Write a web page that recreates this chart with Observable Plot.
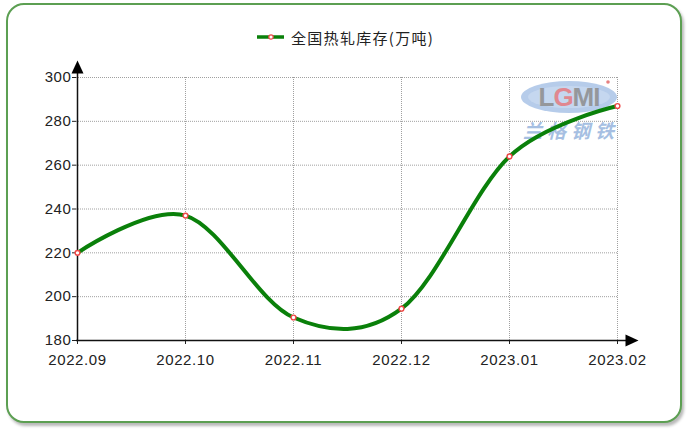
<!DOCTYPE html>
<html>
<head>
<meta charset="utf-8">
<script src="https://cdn.jsdelivr.net/npm/d3@7"></script>
<script src="https://cdn.jsdelivr.net/npm/@observablehq/plot@0.6"></script>
<style>
  html, body { margin: 0; padding: 0; background: #fff; }
  #wrap { position: relative; width: 688px; height: 429px; overflow: hidden; }
  #frame { position: absolute; left: 6px; top: 3px; width: 672px; height: 416px;
           border: 2px solid #5c9f52; border-radius: 18px;
           box-shadow: 2px 3px 3px rgba(0,0,0,0.28); background: #fff; }
  #legend { position: absolute; left: 257px; top: 27px; height: 20px; display: flex; align-items: center;
            font-family: "Noto Sans CJK SC", sans-serif; font-size: 15px; color: #222; letter-spacing: 1.3px; }
  #wm { position: absolute; left: 0; top: 0; }
  #chart { position: absolute; left: 0; top: 0; }
</style>
</head>
<body>
<div id="wrap">
  <div id="frame"></div>
  <svg id="wm" width="688" height="429">
    <ellipse cx="569" cy="97" rx="48" ry="16" fill="#a9c3e6" opacity="0.85"/>
    <ellipse cx="569" cy="97" rx="41" ry="11" fill="#c9d9f0" opacity="0.8"/>
    <text x="569" y="106" text-anchor="middle" font-family="Liberation Sans" font-weight="bold" font-size="26" fill="#8d8d8d" opacity="0.85" letter-spacing="-1">L<tspan fill="#e57a80">G</tspan>MI</text>
    <circle cx="608" cy="82" r="1.8" fill="#e06060" opacity="0.8"/>
    <text x="571" y="138" text-anchor="middle" font-family="Noto Sans CJK SC" font-size="19" font-weight="bold" font-style="italic" fill="#a6bfe2" letter-spacing="5">兰格钢铁</text>
  </svg>
  <div id="chart"></div>
  <div id="legend">
    <svg width="28" height="10" style="margin-right:6px"><line x1="0" y1="5" x2="27" y2="5" stroke="#0a800a" stroke-width="3.5"/><circle cx="14" cy="5" r="2.2" fill="#fff" stroke="#f04848" stroke-width="1.2"/></svg>
    <span>全国热轧库存(万吨)</span>
  </div>
</div>
<script>
const months = ["2022.09", "2022.10", "2022.11", "2022.12", "2023.01", "2023.02"];
const stock = [220, 237, 190.5, 194.5, 264, 287];
const yTicks = [180, 200, 220, 240, 260, 280, 300];

const data = months.map((m, i) => ({month: m, value: stock[i]}));
const gridStyle = {stroke: "#a0a0a0", strokeOpacity: 1, strokeDasharray: "1,1", strokeWidth: 1};

const chart = Plot.plot({
  width: 688,
  height: 429,
  marginLeft: 76,
  marginRight: 70,
  marginTop: 77,
  marginBottom: 89,
  style: {background: "transparent", fontFamily: "Liberation Sans, Arial, sans-serif", fontSize: "15px", color: "#222", letterSpacing: "0.6px"},
  x: {type: "point", domain: months, padding: 0},
  y: {domain: [yTicks[0], yTicks[yTicks.length - 1]]},
  marks: [
    Plot.gridY(yTicks.slice(1), gridStyle),
    Plot.gridX(months.slice(1), gridStyle),
    Plot.axisY(yTicks, {tickSize: 4, tickPadding: 1, label: null, stroke: "#222", fontSize: 15}),
    Plot.axisX(months, {tickSize: 4, tickPadding: 10, label: null, stroke: "#222", fontSize: 15}),
    Plot.ruleY([yTicks[0]], {stroke: "#111", strokeWidth: 1.5, insetRight: -8}),
    Plot.ruleX([months[0]], {stroke: "#111", strokeWidth: 1.5, insetTop: -4}),
    Plot.dot([0], {x: () => months[months.length - 1], y: () => yTicks[0], fill: "#000", stroke: null,
      symbol: {draw(ctx) { ctx.moveTo(8, -6); ctx.lineTo(21, 0); ctx.lineTo(8, 6); ctx.closePath(); }}}),
    Plot.dot([0], {x: () => months[0], y: () => yTicks[yTicks.length - 1], fill: "#000", stroke: null,
      symbol: {draw(ctx) { ctx.moveTo(-6, -4); ctx.lineTo(0, -17); ctx.lineTo(6, -4); ctx.closePath(); }}}),
    Plot.line(data, {x: "month", y: "value", curve: "cardinal", tension: 0, stroke: "#0a800a", strokeWidth: 4}),
    Plot.dot(data, {x: "month", y: "value", r: 2.4, fill: "#fff", stroke: "#f04848", strokeWidth: 1.4})
  ]
});
document.getElementById("chart").appendChild(chart);
</script>
</body>
</html>
